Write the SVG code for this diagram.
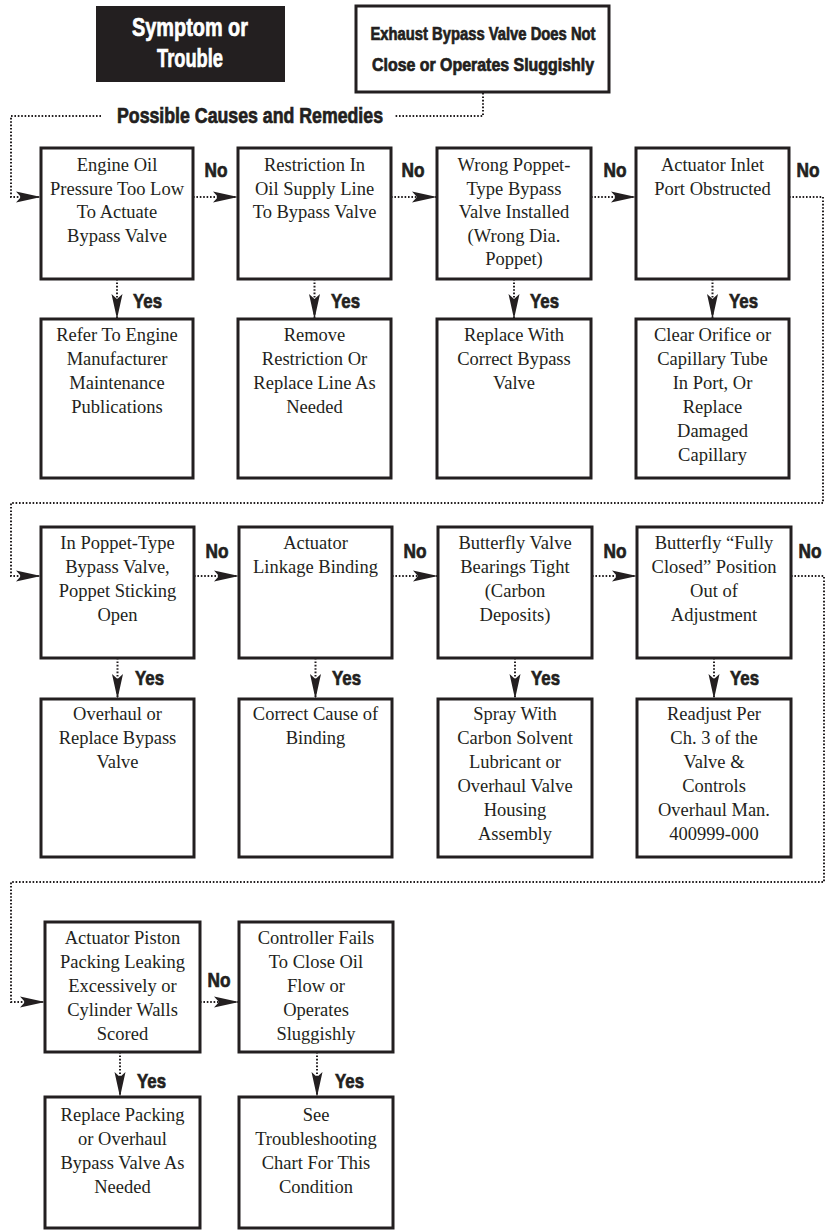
<svg xmlns="http://www.w3.org/2000/svg" width="825" height="1230" viewBox="0 0 825 1230">
<style>
.box{fill:#fff;stroke:#231f20;stroke-width:3}
.t{font-family:"Liberation Serif","Times New Roman",serif;font-size:18.5px;fill:#231f20;text-anchor:middle}
.h{font-family:"Liberation Sans",Arial,sans-serif;font-weight:bold;fill:#231f20;stroke:#231f20;stroke-width:0.7}
.w{fill:#fff;stroke:#fff}
.dot{fill:none;stroke:#231f20;stroke-width:2;stroke-dasharray:1.6 1.8}
</style>
<defs>
<marker id="ah" viewBox="-25 -6 26 12" refX="0" refY="0" markerWidth="26" markerHeight="12" orient="auto" markerUnits="userSpaceOnUse">
<path d="M0,0 L-25,-5.5 L-20,0 L-25,5.5 Z" fill="#231f20"/>
</marker>
</defs>
<rect width="825" height="1230" fill="#fff"/>

<g id="header-symptom">
<rect x="96" y="6" width="189" height="76" fill="#231f20"/>
<text class="h w" x="190" y="36" font-size="26" text-anchor="middle" textLength="116" lengthAdjust="spacingAndGlyphs">Symptom or</text>
<text class="h w" x="190" y="67" font-size="26" text-anchor="middle" textLength="66" lengthAdjust="spacingAndGlyphs">Trouble</text>
</g>
<g id="header-trouble">
<rect x="356" y="6" width="253" height="86" fill="#fff" stroke="#231f20" stroke-width="3"/>
<text class="h" x="483" y="40" font-size="18" text-anchor="middle" textLength="225" lengthAdjust="spacingAndGlyphs">Exhaust Bypass Valve Does Not</text>
<text class="h" x="483" y="71" font-size="18" text-anchor="middle" textLength="222" lengthAdjust="spacingAndGlyphs">Close or Operates Sluggishly</text>
</g>
<g id="caption">
<text class="h" x="250" y="123" font-size="22" text-anchor="middle" textLength="266" lengthAdjust="spacingAndGlyphs">Possible Causes and Remedies</text>
</g>

<g id="connectors">
<path class="dot" d="M483,93 V116 H395"/>
<path class="dot" d="M101,116 H11 V197 H41" marker-end="url(#ah)"/>
<path class="dot" d="M193,197 H238" marker-end="url(#ah)"/>
<path class="dot" d="M391,197 H437" marker-end="url(#ah)"/>
<path class="dot" d="M591,197 H636" marker-end="url(#ah)"/>
<path class="dot" d="M789,197 H823 V503 H11 V576 H41" marker-end="url(#ah)"/>
<path class="dot" d="M117,279 V319" marker-end="url(#ah)"/>
<path class="dot" d="M314.5,279 V319" marker-end="url(#ah)"/>
<path class="dot" d="M514,279 V319" marker-end="url(#ah)"/>
<path class="dot" d="M712.5,279 V319" marker-end="url(#ah)"/>
<path class="dot" d="M194,576 H239" marker-end="url(#ah)"/>
<path class="dot" d="M392,576 H438" marker-end="url(#ah)"/>
<path class="dot" d="M592,576 H637" marker-end="url(#ah)"/>
<path class="dot" d="M791,576 H824 V882 H11 V1002 H45" marker-end="url(#ah)"/>
<path class="dot" d="M117.5,658 V699" marker-end="url(#ah)"/>
<path class="dot" d="M315.5,658 V699" marker-end="url(#ah)"/>
<path class="dot" d="M515,658 V699" marker-end="url(#ah)"/>
<path class="dot" d="M714,658 V699" marker-end="url(#ah)"/>
<path class="dot" d="M200,1002 H239" marker-end="url(#ah)"/>
<path class="dot" d="M120,1052 V1097" marker-end="url(#ah)"/>
<path class="dot" d="M317,1052 V1097" marker-end="url(#ah)"/>
<g class="h" font-size="21" text-anchor="middle">
<text x="216" y="177" textLength="23" lengthAdjust="spacingAndGlyphs">No</text>
<text x="413" y="177" textLength="23" lengthAdjust="spacingAndGlyphs">No</text>
<text x="615" y="177" textLength="23" lengthAdjust="spacingAndGlyphs">No</text>
<text x="808" y="177" textLength="23" lengthAdjust="spacingAndGlyphs">No</text>
<text x="217" y="558" textLength="23" lengthAdjust="spacingAndGlyphs">No</text>
<text x="415" y="558" textLength="23" lengthAdjust="spacingAndGlyphs">No</text>
<text x="615" y="558" textLength="23" lengthAdjust="spacingAndGlyphs">No</text>
<text x="810" y="558" textLength="23" lengthAdjust="spacingAndGlyphs">No</text>
<text x="219" y="987" textLength="23" lengthAdjust="spacingAndGlyphs">No</text>
</g>
<g class="h" font-size="21">
<text x="133" y="308" textLength="29" lengthAdjust="spacingAndGlyphs">Yes</text>
<text x="331" y="308" textLength="29" lengthAdjust="spacingAndGlyphs">Yes</text>
<text x="530" y="308" textLength="29" lengthAdjust="spacingAndGlyphs">Yes</text>
<text x="729" y="308" textLength="29" lengthAdjust="spacingAndGlyphs">Yes</text>
<text x="135" y="685" textLength="29" lengthAdjust="spacingAndGlyphs">Yes</text>
<text x="332" y="685" textLength="29" lengthAdjust="spacingAndGlyphs">Yes</text>
<text x="531" y="685" textLength="29" lengthAdjust="spacingAndGlyphs">Yes</text>
<text x="730" y="685" textLength="29" lengthAdjust="spacingAndGlyphs">Yes</text>
<text x="137" y="1088" textLength="29" lengthAdjust="spacingAndGlyphs">Yes</text>
<text x="335" y="1088" textLength="29" lengthAdjust="spacingAndGlyphs">Yes</text>
</g>
</g>

<g id="n1">
<rect class="box" x="41" y="148" width="152" height="131"/>
<text class="t" x="117" y="171">Engine Oil</text>
<text class="t" x="117" y="194.5">Pressure Too Low</text>
<text class="t" x="117" y="218">To Actuate</text>
<text class="t" x="117" y="241.5">Bypass Valve</text>
</g>
<g id="n2">
<rect class="box" x="238" y="148" width="153" height="131"/>
<text class="t" x="314.5" y="171">Restriction In</text>
<text class="t" x="314.5" y="194.5">Oil Supply Line</text>
<text class="t" x="314.5" y="218">To Bypass Valve</text>
</g>
<g id="n3">
<rect class="box" x="437" y="148" width="154" height="131"/>
<text class="t" x="514" y="171">Wrong Poppet-</text>
<text class="t" x="514" y="194.5">Type Bypass</text>
<text class="t" x="514" y="218">Valve Installed</text>
<text class="t" x="514" y="241.5">(Wrong Dia.</text>
<text class="t" x="514" y="265">Poppet)</text>
</g>
<g id="n4">
<rect class="box" x="636" y="148" width="153" height="131"/>
<text class="t" x="712.5" y="171">Actuator Inlet</text>
<text class="t" x="712.5" y="194.5">Port Obstructed</text>
</g>
<g id="r1">
<rect class="box" x="41" y="319" width="152" height="159"/>
<text class="t" x="117" y="341">Refer To Engine</text>
<text class="t" x="117" y="365">Manufacturer</text>
<text class="t" x="117" y="389">Maintenance</text>
<text class="t" x="117" y="413">Publications</text>
</g>
<g id="r2">
<rect class="box" x="238" y="319" width="153" height="159"/>
<text class="t" x="314.5" y="341">Remove</text>
<text class="t" x="314.5" y="365">Restriction Or</text>
<text class="t" x="314.5" y="389">Replace Line As</text>
<text class="t" x="314.5" y="413">Needed</text>
</g>
<g id="r3">
<rect class="box" x="437" y="319" width="154" height="159"/>
<text class="t" x="514" y="341">Replace With</text>
<text class="t" x="514" y="365">Correct Bypass</text>
<text class="t" x="514" y="389">Valve</text>
</g>
<g id="r4">
<rect class="box" x="636" y="319" width="153" height="159"/>
<text class="t" x="712.5" y="341">Clear Orifice or</text>
<text class="t" x="712.5" y="365">Capillary Tube</text>
<text class="t" x="712.5" y="389">In Port, Or</text>
<text class="t" x="712.5" y="413">Replace</text>
<text class="t" x="712.5" y="437">Damaged</text>
<text class="t" x="712.5" y="461">Capillary</text>
</g>

<g id="n5">
<rect class="box" x="41" y="527" width="153" height="131"/>
<text class="t" x="117.5" y="549">In Poppet-Type</text>
<text class="t" x="117.5" y="573">Bypass Valve,</text>
<text class="t" x="117.5" y="597">Poppet Sticking</text>
<text class="t" x="117.5" y="621">Open</text>
</g>
<g id="n6">
<rect class="box" x="239" y="527" width="153" height="131"/>
<text class="t" x="315.5" y="549">Actuator</text>
<text class="t" x="315.5" y="573">Linkage Binding</text>
</g>
<g id="n7">
<rect class="box" x="438" y="527" width="154" height="131"/>
<text class="t" x="515" y="549">Butterfly Valve</text>
<text class="t" x="515" y="573">Bearings Tight</text>
<text class="t" x="515" y="597">(Carbon</text>
<text class="t" x="515" y="621">Deposits)</text>
</g>
<g id="n8">
<rect class="box" x="637" y="527" width="154" height="131"/>
<text class="t" x="714" y="549">Butterfly “Fully</text>
<text class="t" x="714" y="573">Closed” Position</text>
<text class="t" x="714" y="597">Out of</text>
<text class="t" x="714" y="621">Adjustment</text>
</g>
<g id="r5">
<rect class="box" x="41" y="699" width="153" height="158"/>
<text class="t" x="117.5" y="720">Overhaul or</text>
<text class="t" x="117.5" y="744">Replace Bypass</text>
<text class="t" x="117.5" y="768">Valve</text>
</g>
<g id="r6">
<rect class="box" x="239" y="699" width="153" height="158"/>
<text class="t" x="315.5" y="720">Correct Cause of</text>
<text class="t" x="315.5" y="744">Binding</text>
</g>
<g id="r7">
<rect class="box" x="438" y="699" width="154" height="158"/>
<text class="t" x="515" y="720">Spray With</text>
<text class="t" x="515" y="744">Carbon Solvent</text>
<text class="t" x="515" y="768">Lubricant or</text>
<text class="t" x="515" y="792">Overhaul Valve</text>
<text class="t" x="515" y="816">Housing</text>
<text class="t" x="515" y="840">Assembly</text>
</g>
<g id="r8">
<rect class="box" x="637" y="699" width="154" height="158"/>
<text class="t" x="714" y="720">Readjust Per</text>
<text class="t" x="714" y="744">Ch. 3 of the</text>
<text class="t" x="714" y="768">Valve &amp;</text>
<text class="t" x="714" y="792">Controls</text>
<text class="t" x="714" y="816">Overhaul Man.</text>
<text class="t" x="714" y="840">400999-000</text>
</g>

<g id="n9">
<rect class="box" x="45" y="922" width="155" height="130"/>
<text class="t" x="122.5" y="944">Actuator Piston</text>
<text class="t" x="122.5" y="968">Packing Leaking</text>
<text class="t" x="122.5" y="992">Excessively or</text>
<text class="t" x="122.5" y="1016">Cylinder Walls</text>
<text class="t" x="122.5" y="1040">Scored</text>
</g>
<g id="n10">
<rect class="box" x="239" y="922" width="154" height="130"/>
<text class="t" x="316" y="944">Controller Fails</text>
<text class="t" x="316" y="968">To Close Oil</text>
<text class="t" x="316" y="992">Flow or</text>
<text class="t" x="316" y="1016">Operates</text>
<text class="t" x="316" y="1040">Sluggishly</text>
</g>
<g id="r9">
<rect class="box" x="45" y="1097" width="155" height="131"/>
<text class="t" x="122.5" y="1121">Replace Packing</text>
<text class="t" x="122.5" y="1145">or Overhaul</text>
<text class="t" x="122.5" y="1169">Bypass Valve As</text>
<text class="t" x="122.5" y="1193">Needed</text>
</g>
<g id="r10">
<rect class="box" x="239" y="1097" width="154" height="131"/>
<text class="t" x="316" y="1121">See</text>
<text class="t" x="316" y="1145">Troubleshooting</text>
<text class="t" x="316" y="1169">Chart For This</text>
<text class="t" x="316" y="1193">Condition</text>
</g>
</svg>
